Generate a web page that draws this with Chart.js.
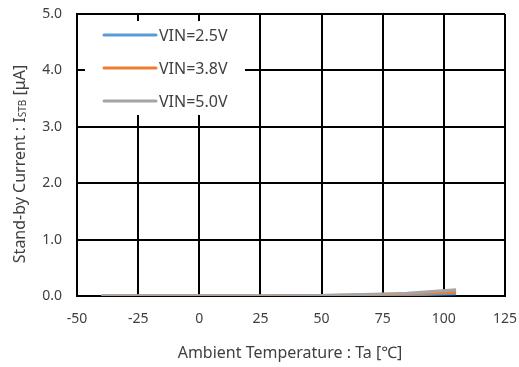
<!DOCTYPE html>
<html lang="en">
<head>
<meta charset="UTF-8">
<title>Stand-by Current vs Ambient Temperature</title>
<script src="https://cdn.jsdelivr.net/npm/chart.js"></script>
<style>
  html, body { margin: 0; padding: 0; background: #fff; }
  #wrap { width: 519px; height: 367px; position: relative; }
</style>
</head>
<body>
<div id="wrap"><canvas id="chart"></canvas></div>
<script>
// data
const temps = [-40, -25, 0, 25, 50, 75, 85, 105];
const vin25 = [0, 0, 0, 0, 0.003, 0.01, 0.02, 0.04];
const vin38 = [0, 0, 0, 0, 0.008, 0.025, 0.035, 0.07];
const vin50 = [0, 0, 0, 0, 0.01, 0.035, 0.05, 0.11];
const seriesNames = ['VIN=2.5V', 'VIN=3.8V', 'VIN=5.0V'];
const xTicks = [-50, -25, 0, 25, 50, 75, 100, 125];
const yTicks = [0, 1, 2, 3, 4, 5];

const colors = ['#5B9BD5', '#ED7D31', '#A5A5A5'];
const FONT = '"Noto Sans", "Noto Sans CJK JP", sans-serif';
const TEXT = '#404040';

function pts(ys) {
  return temps.map((t, i) => ({ x: t, y: ys[i] }));
}

// legend inside the plot, on a white box
const insideLegend = {
  id: 'insideLegend',
  afterDatasetsDraw(chart) {
    const ctx = chart.ctx;
    ctx.save();
    ctx.fillStyle = '#fff';
    ctx.fillRect(85, 21, 160, 94);
    ctx.font = '16px ' + FONT;
    ctx.textBaseline = 'middle';
    ctx.lineWidth = 3;
    ctx.lineCap = 'round';
    seriesNames.forEach((name, i) => {
      const y = 35 + i * 33;
      ctx.strokeStyle = colors[i];
      ctx.beginPath();
      ctx.moveTo(104, y);
      ctx.lineTo(156, y);
      ctx.stroke();
      ctx.fillStyle = TEXT;
      ctx.fillText(name, 159, y + 1);
    });
    ctx.restore();
  }
};

// axis titles (the y title has a subscript)
const axisTitles = {
  id: 'axisTitles',
  afterDraw(chart) {
    const ctx = chart.ctx;
    ctx.save();
    ctx.fillStyle = TEXT;
    ctx.textBaseline = 'middle';
    ctx.font = '16px ' + FONT;
    ctx.textAlign = 'center';
    ctx.fillText('Ambient Temperature : Ta [\u2103]', 290, 353);

    const big = '16px ' + FONT, small = '10px ' + FONT;
    const parts = [
      ['Stand-by Current : I', big, 0],
      ['STB', small, 3],
      [' [\u03bcA]', big, 0]
    ];
    let total = 0;
    parts.forEach(p => { ctx.font = p[1]; total += ctx.measureText(p[0]).width; });
    ctx.translate(20, 164);
    ctx.rotate(-Math.PI / 2);
    ctx.textAlign = 'left';
    let x = -total / 2;
    parts.forEach(p => {
      ctx.font = p[1];
      ctx.fillText(p[0], x, p[2]);
      x += ctx.measureText(p[0]).width;
    });
    ctx.restore();
  }
};

const datasets = [vin25, vin38, vin50].map((ys, i) => ({
  label: seriesNames[i],
  data: pts(ys),
  borderColor: colors[i],
  backgroundColor: colors[i],
  borderWidth: 3,
  pointRadius: 0,
  showLine: true,
  order: 2 - i
}));

new Chart(document.getElementById('chart'), {
  type: 'scatter',
  data: { datasets },
  options: {
    responsive: true,
    maintainAspectRatio: false,
    animation: false,
    layout: { padding: { top: 14, right: 14, left: 0, bottom: 0 } },
    plugins: { legend: { display: false }, tooltip: { enabled: false } },
    scales: {
      x: {
        type: 'linear',
        min: xTicks[0],
        max: xTicks[xTicks.length - 1],
        afterBuildTicks: s => { s.ticks = xTicks.map(v => ({ value: v })); },
        afterFit: s => { s.height = 71; s.paddingLeft = 0; s.paddingRight = 0; },
        grid: { color: '#000', lineWidth: 2, drawTicks: false },
        border: { color: '#000', width: 2 },
        ticks: { color: TEXT, font: { family: FONT, size: 14 }, padding: 15, maxRotation: 0 }
      },
      y: {
        type: 'linear',
        min: yTicks[0],
        max: yTicks[yTicks.length - 1],
        afterBuildTicks: s => { s.ticks = yTicks.map(v => ({ value: v })); },
        afterFit: s => { s.width = 77; s.paddingTop = 0; s.paddingBottom = 0; },
        grid: { color: '#000', lineWidth: 2, drawTicks: false },
        border: { color: '#000', width: 2 },
        ticks: { color: TEXT, font: { family: FONT, size: 14 }, padding: 15,
                 callback: v => v.toFixed(1) }
      }
    }
  },
  plugins: [insideLegend, axisTitles]
});
</script>
</body>
</html>
